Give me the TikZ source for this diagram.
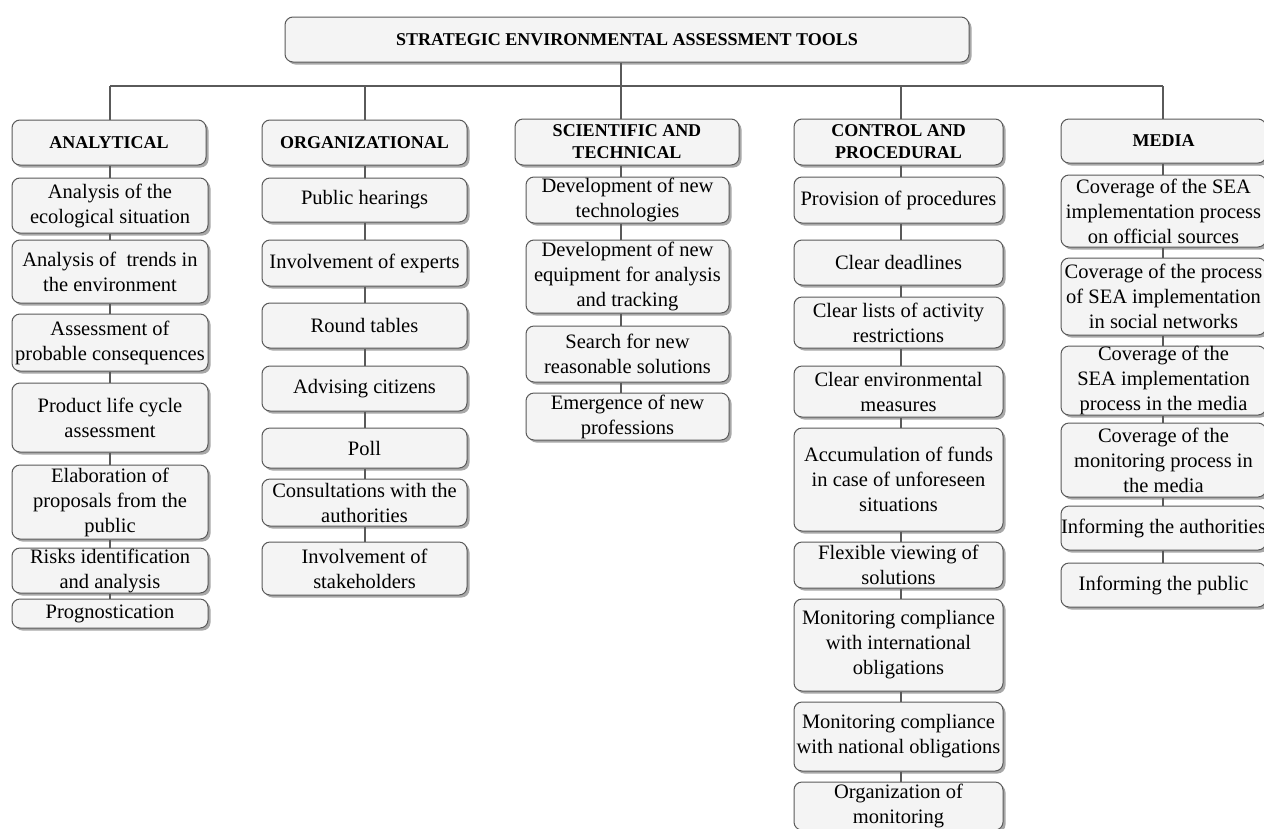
\documentclass[tikz,border=0pt]{standalone}
\usepackage{fontspec}
\setmainfont{Liberation Serif}
\usetikzlibrary{shadows}
\definecolor{boxfill}{HTML}{F4F4F4}
\definecolor{boxline}{HTML}{5A5A5A}
\definecolor{shade}{HTML}{A8A8A8}
\tikzset{
  item/.style={draw=boxline, line width=1pt, fill=boxfill, rounded corners=8pt,
    inner sep=0pt, align=center, font=\fontsize{20.5}{25}\selectfont,
    drop shadow={shadow xshift=2.5pt, shadow yshift=-2.5pt, fill=shade, opacity=1}},
  head/.style={item, font=\fontsize{18}{22}\selectfont\bfseries},
  conn/.style={draw=boxline, line width=1.1pt}
}
\newcommand\bx[7][item]{\node[#1, minimum width={#5-#3}, minimum height={#6-#4}] (#2) at ({(#3+#5)/2},{(#4+#6)/2}) {#7};}
\begin{document}
\begin{tikzpicture}[x=1pt,y=-1pt]
\useasboundingbox[fill=white] (0,0) rectangle (1264,828);
\coordinate (bus) at (0,86);
\coordinate (colA) at (110,0);
\coordinate (colO) at (365,0);
\coordinate (colS) at (621,0);
\coordinate (colC) at (901,0);
\coordinate (colM) at (1163,0);
% title and headers
\bx[head]{T}{285}{17}{969}{62}{STRATEGIC ENVIRONMENTAL ASSESSMENT TOOLS}
\bx[head]{A}{12}{120}{206}{165}{ANALYTICAL}
\bx[head]{O}{262}{120}{467}{165}{ORGANIZATIONAL}
\bx[head]{S}{515}{119}{739}{165}{SCIENTIFIC AND\\TECHNICAL}
\bx[head]{C}{794}{119}{1003}{165}{CONTROL AND\\PROCEDURAL}
\bx[head]{M}{1061}{119}{1266}{163}{MEDIA}
% analytical
\bx{a1}{12}{178}{208}{233}{Analysis of the\\ecological situation}
\bx{a2}{12}{240}{208}{303}{Analysis of \ trends in\\the environment}
\bx{a3}{12}{314}{208}{371}{Assessment of\\probable consequences}
\bx{a4}{12}{383}{208}{452}{Product life cycle\\assessment}
\bx{a5}{12}{465}{208}{539}{Elaboration of\\proposals from the\\public}
\bx{a6}{12}{548}{208}{593}{Risks identification\\and analysis}
\bx{a7}{12}{599}{208}{628}{Prognostication}
% organizational
\bx{o1}{262}{178}{467}{222}{Public hearings}
\bx{o2}{262}{240}{467}{286}{Involvement of experts}
\bx{o3}{262}{303}{467}{348}{Round tables}
\bx{o4}{262}{366}{467}{411}{Advising citizens}
\bx{o5}{262}{428}{467}{468}{Poll}
\bx{o6}{262}{479}{467}{526}{Consultations with the\\authorities}
\bx{o7}{262}{542}{467}{595}{Involvement of\\stakeholders}
% scientific
\bx{s1}{526}{177}{729}{223}{Development of new\\technologies}
\bx{s2}{526}{240}{729}{313}{Development of new\\equipment for analysis\\and tracking}
\bx{s3}{526}{326}{729}{382}{Search for new\\reasonable solutions}
\bx{s4}{526}{393}{729}{440}{Emergence of new\\professions}
% control
\bx{c1}{794}{177}{1003}{223}{Provision of procedures}
\bx{c2}{794}{240}{1003}{285}{Clear deadlines}
\bx{c3}{794}{297}{1003}{348}{Clear lists of activity\\restrictions}
\bx{c4}{794}{366}{1003}{417}{Clear environmental\\measures}
\bx{c5}{794}{428}{1003}{531}{Accumulation of funds\\in case of unforeseen\\situations}
\bx{c6}{794}{542}{1003}{588}{Flexible viewing of\\solutions}
\bx{c7}{794}{599}{1003}{691}{Monitoring compliance\\with international\\obligations}
\bx{c8}{794}{702}{1003}{771}{Monitoring compliance\\with national obligations}
\bx{c9}{794}{782}{1003}{830}{Organization of\\monitoring}
% media
\bx{m1}{1061}{175}{1266}{247}{Coverage of the SEA\\implementation process\\on official sources}
\bx{m2}{1061}{258}{1266}{335}{Coverage of the process\\of SEA implementation\\in social networks}
\bx{m3}{1061}{346}{1266}{415}{Coverage of the\\SEA implementation\\process in the media}
\bx{m4}{1061}{423}{1266}{497}{Coverage of the\\monitoring process in\\the media}
\bx{m5}{1061}{506}{1266}{550}{Informing the authorities}
\bx{m6}{1061}{563}{1266}{607}{Informing the public}
% connectors
\draw[conn] (T.south -| colS) -- (bus -| colS);
\draw[conn] (bus -| colA) -- (bus -| colM);
\foreach \c/\h in {colA/A, colO/O, colS/S, colC/C, colM/M}
  \draw[conn] (bus -| \c) -- (\h.north -| \c);
\foreach \c/\p/\q in {colA/A/a1, colA/a1/a2, colA/a2/a3, colA/a3/a4, colA/a4/a5, colA/a5/a6, colA/a6/a7,
  colO/O/o1, colO/o1/o2, colO/o2/o3, colO/o3/o4, colO/o4/o5, colO/o5/o6, colO/o6/o7,
  colS/S/s1, colS/s1/s2, colS/s2/s3, colS/s3/s4,
  colC/C/c1, colC/c1/c2, colC/c2/c3, colC/c3/c4, colC/c4/c5, colC/c5/c6, colC/c6/c7, colC/c7/c8, colC/c8/c9,
  colM/M/m1, colM/m1/m2, colM/m2/m3, colM/m3/m4, colM/m4/m5, colM/m5/m6}
  \draw[conn] (\p.south -| \c) -- (\q.north -| \c);
\end{tikzpicture}
\end{document}
